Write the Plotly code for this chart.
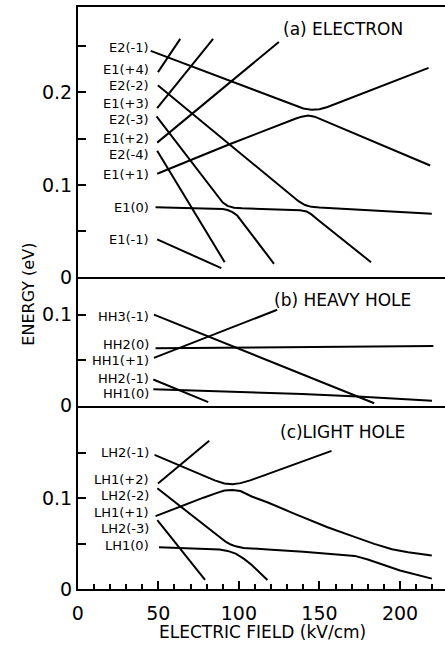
import plotly.graph_objects as go

# ---------------- data (field in kV/cm, energy in eV) ----------------
# Panel (a) ELECTRON
E1m1_x = [49.3, 89.1]
E1m1_y = [0.041, 0.0099]
E2m4_x = [49.3, 91.2]
E2m4_y = [0.137, 0.0163]
E1z_x = [48.3, 70, 85, 90, 93, 96, 99, 121.8]
E1z_y = [0.0759, 0.0752, 0.0745, 0.0738, 0.0728, 0.0705, 0.0668, 0.0146]
E2m3_x = [48.9, 86, 90, 93, 97, 102, 120, 138, 142, 145, 149, 182]
E2m3_y = [0.174, 0.0888, 0.0808, 0.0772, 0.0752, 0.0746, 0.0738, 0.0725, 0.0712, 0.068, 0.0622, 0.0163]
E2m2_x = [49.7, 133, 137, 141, 145, 150, 219.7]
E2m2_y = [0.2078, 0.0872, 0.0823, 0.0782, 0.0762, 0.0755, 0.0688]
E1p1_x = [49.3, 94.2, 135, 139, 143, 147, 151, 218.7]
E1p1_y = [0.112, 0.144, 0.1715, 0.1738, 0.175, 0.1738, 0.1708, 0.121]
E2m1_x = [45.3, 131, 136, 140, 145, 150, 155, 217.7]
E2m1_y = [0.245, 0.188, 0.1848, 0.1827, 0.1813, 0.1818, 0.1843, 0.2266]
E1p2_x = [49.3, 124.8]
E1p2_y = [0.1457, 0.2546]
E1p3_x = [49.3, 84.0]
E1p3_y = [0.183, 0.258]
E1p4_x = [49.8, 63.6]
E1p4_y = [0.222, 0.258]

# Panel (b) HEAVY HOLE
HH3m1_x = [47.3, 184]
HH3m1_y = [0.100, 0.0025]
HH1p1_x = [47.3, 123.8]
HH1p1_y = [0.0524, 0.1054]
HH2z_x = [48.3, 220.7]
HH2z_y = [0.063, 0.0655]
HH2m1_x = [46.9, 81]
HH2m1_y = [0.0286, 0.0038]
HH1z_x = [46.9, 139.2, 173.8, 219.8]
HH1z_y = [0.0178, 0.0128, 0.0099, 0.0052]

# Panel (c) LIGHT HOLE
LH2m1_x = [47.7, 63, 75, 85, 91, 96, 101, 107, 114.8, 157.5]
LH2m1_y = [0.1476, 0.136, 0.1265, 0.1195, 0.1162, 0.1152, 0.1165, 0.1195, 0.1245, 0.152]
LH1p2_x = [49.8, 81.6]
LH1p2_y = [0.1162, 0.163]
LH2m2_x = [49.4, 63.7, 80, 86, 89, 92, 95, 98, 103, 110, 118, 140, 165, 172, 180, 190, 200, 219.7]
LH2m2_y = [0.1108, 0.091, 0.068, 0.0596, 0.0556, 0.0518, 0.049, 0.047, 0.0453, 0.0443, 0.0435,
           0.041, 0.038, 0.0365, 0.0325, 0.0265, 0.0205, 0.0115]
LH1p1_x = [48.3, 63.7, 78, 86, 91, 96, 101, 108, 118, 135, 155, 170, 184, 195, 205, 219.7]
LH1p1_y = [0.0802, 0.091, 0.1005, 0.1055, 0.1083, 0.109, 0.1078, 0.1018, 0.0952, 0.0825, 0.068,
           0.0585, 0.0497, 0.0438, 0.0405, 0.037]
LH2m3_x = [49.4, 62.6, 79]
LH2m3_y = [0.0757, 0.046, 0.0101]
LH1z_x = [50.4, 75, 88, 93, 98, 103, 108, 117.7]
LH1z_y = [0.046, 0.0445, 0.0435, 0.042, 0.039, 0.0335, 0.0265, 0.010]

# curve labels: text, energy position
labels_a = ["E2(-1)", "E1(+4)", "E2(-2)", "E1(+3)", "E2(-3)", "E1(+2)", "E2(-4)", "E1(+1)", "E1(0)", "E1(-1)"]
labels_a_y = [0.2486, 0.2248, 0.2071, 0.1883, 0.1705, 0.1503, 0.1327, 0.1114, 0.0759, 0.0404]
labels_b = ["HH3(-1)", "HH2(0)", "HH1(+1)", "HH2(-1)", "HH1(0)"]
labels_b_y = [0.0982, 0.0676, 0.0495, 0.0297, 0.0135]
labels_c = ["LH2(-1)", "LH1(+2)", "LH2(-2)", "LH1(+1)", "LH2(-3)", "LH1(0)"]
labels_c_y = [0.1505, 0.121, 0.1029, 0.0838, 0.0669, 0.0478]

titles = ["(a) ELECTRON", "(b) HEAVY HOLE", "(c)LIGHT HOLE"]
titles_y = [0.2688, 0.1162, 0.1729]

y_ticks_a = [0, 0.05, 0.1, 0.15, 0.2, 0.25]
y_text_a = ["0", "", "0.1", "", "0.2", ""]
y_ticks_b = [0, 0.05, 0.1]
y_text_b = ["0", "", "0.1"]
y_ticks_c = [0, 0.05, 0.1, 0.15]
y_text_c = ["0", "", "0.1", ""]
x_ticks = [0, 50, 100, 150, 200]

# ---------------- figure ----------------
FONT = "DejaVu Sans"
LW = 2
fig = go.Figure()

panel_a = [(E1m1_x, E1m1_y), (E2m4_x, E2m4_y), (E1z_x, E1z_y), (E2m3_x, E2m3_y),
           (E2m2_x, E2m2_y), (E1p1_x, E1p1_y), (E2m1_x, E2m1_y), (E1p2_x, E1p2_y),
           (E1p3_x, E1p3_y), (E1p4_x, E1p4_y)]
panel_b = [(HH3m1_x, HH3m1_y), (HH1p1_x, HH1p1_y), (HH2z_x, HH2z_y), (HH2m1_x, HH2m1_y),
           (HH1z_x, HH1z_y)]
panel_c = [(LH2m1_x, LH2m1_y), (LH1p2_x, LH1p2_y), (LH2m2_x, LH2m2_y), (LH1p1_x, LH1p1_y),
           (LH2m3_x, LH2m3_y), (LH1z_x, LH1z_y)]

for curves, xa, ya in [(panel_a, "x", "y"), (panel_b, "x2", "y2"), (panel_c, "x3", "y3")]:
    for cx, cy in curves:
        fig.add_trace(go.Scatter(x=cx, y=cy, mode="lines", xaxis=xa, yaxis=ya,
                                 line=dict(color="black", width=LW), showlegend=False,
                                 hoverinfo="skip"))

ann = []
for texts, ys, yref in [(labels_a, labels_a_y, "y"), (labels_b, labels_b_y, "y2"),
                        (labels_c, labels_c_y, "y3")]:
    for t, yv in zip(texts, ys):
        ann.append(dict(text=t, x=45.0, y=yv, xref="x", yref=yref, xanchor="right",
                        yanchor="middle", showarrow=False, borderpad=0,
                        font=dict(family=FONT, size=13, color="black")))
for t, yv, yref in zip(titles, titles_y, ["y", "y2", "y3"]):
    ann.append(dict(text=t, x=164.5, y=yv, xref="x", yref=yref, xanchor="center",
                    yanchor="middle", showarrow=False,
                    font=dict(family=FONT, size=17, color="black")))
ann.append(dict(text="ENERGY (eV)", x=23 / 445, y=(653 - 299) / 653, xref="paper", yref="paper",
                textangle=-90, showarrow=False, xanchor="center", yanchor="middle",
                font=dict(family=FONT, size=16, color="black")))
ann.append(dict(text="ELECTRIC FIELD (kV/cm)", x=260 / 445, y=(653 - 643) / 653, xref="paper",
                yref="paper", showarrow=False, xanchor="center", yanchor="middle",
                font=dict(family=FONT, size=17, color="black")))

XR = [0, 227.9]
XD = [72.7 / 445, 1]
axis_line = dict(showline=True, linecolor="black", linewidth=1.6, showgrid=False, zeroline=False)
tickfont = dict(family=FONT, size=19, color="black")


def xax(bottom, anchor, mirror):
    d = dict(axis_line, range=XR, domain=XD, anchor=anchor, mirror=mirror)
    if bottom:
        d.update(tickvals=x_ticks, ticks="inside", ticklen=8, tickwidth=1.5, tickcolor="black",
                 tickfont=tickfont, ticklabelstandoff=6,
                 minor=dict(dtick=10, ticks="inside", ticklen=5, tickwidth=1.5, tickcolor="black"))
    else:
        d.update(showticklabels=False, ticks="")
    return d


def yax(rng, dom, tv, tt, anchor):
    return dict(axis_line, range=rng, domain=dom, anchor=anchor, tickvals=tv, ticktext=tt,
                ticks="inside", ticklen=8, tickwidth=1.5, tickcolor="black", tickfont=tickfont)


fig.update_layout(
    width=445, height=653, margin=dict(l=0, r=0, t=0, b=0),
    paper_bgcolor="white", plot_bgcolor="white", showlegend=False,
    xaxis=xax(False, "y", True), xaxis2=xax(False, "y2", False), xaxis3=xax(True, "y3", False),
    yaxis=yax([0, 0.2926], [0.5681, 0.9893], y_ticks_a, y_text_a, "x"),
    yaxis2=yax([0, 0.1411], [0.3683, 0.5681], y_ticks_b, y_text_b, "x2"),
    yaxis3=yax([0, 0.2018], [0.0824, 0.3683], y_ticks_c, y_text_c, "x3"),
    annotations=ann,
)

fig.write_html("out.html")
